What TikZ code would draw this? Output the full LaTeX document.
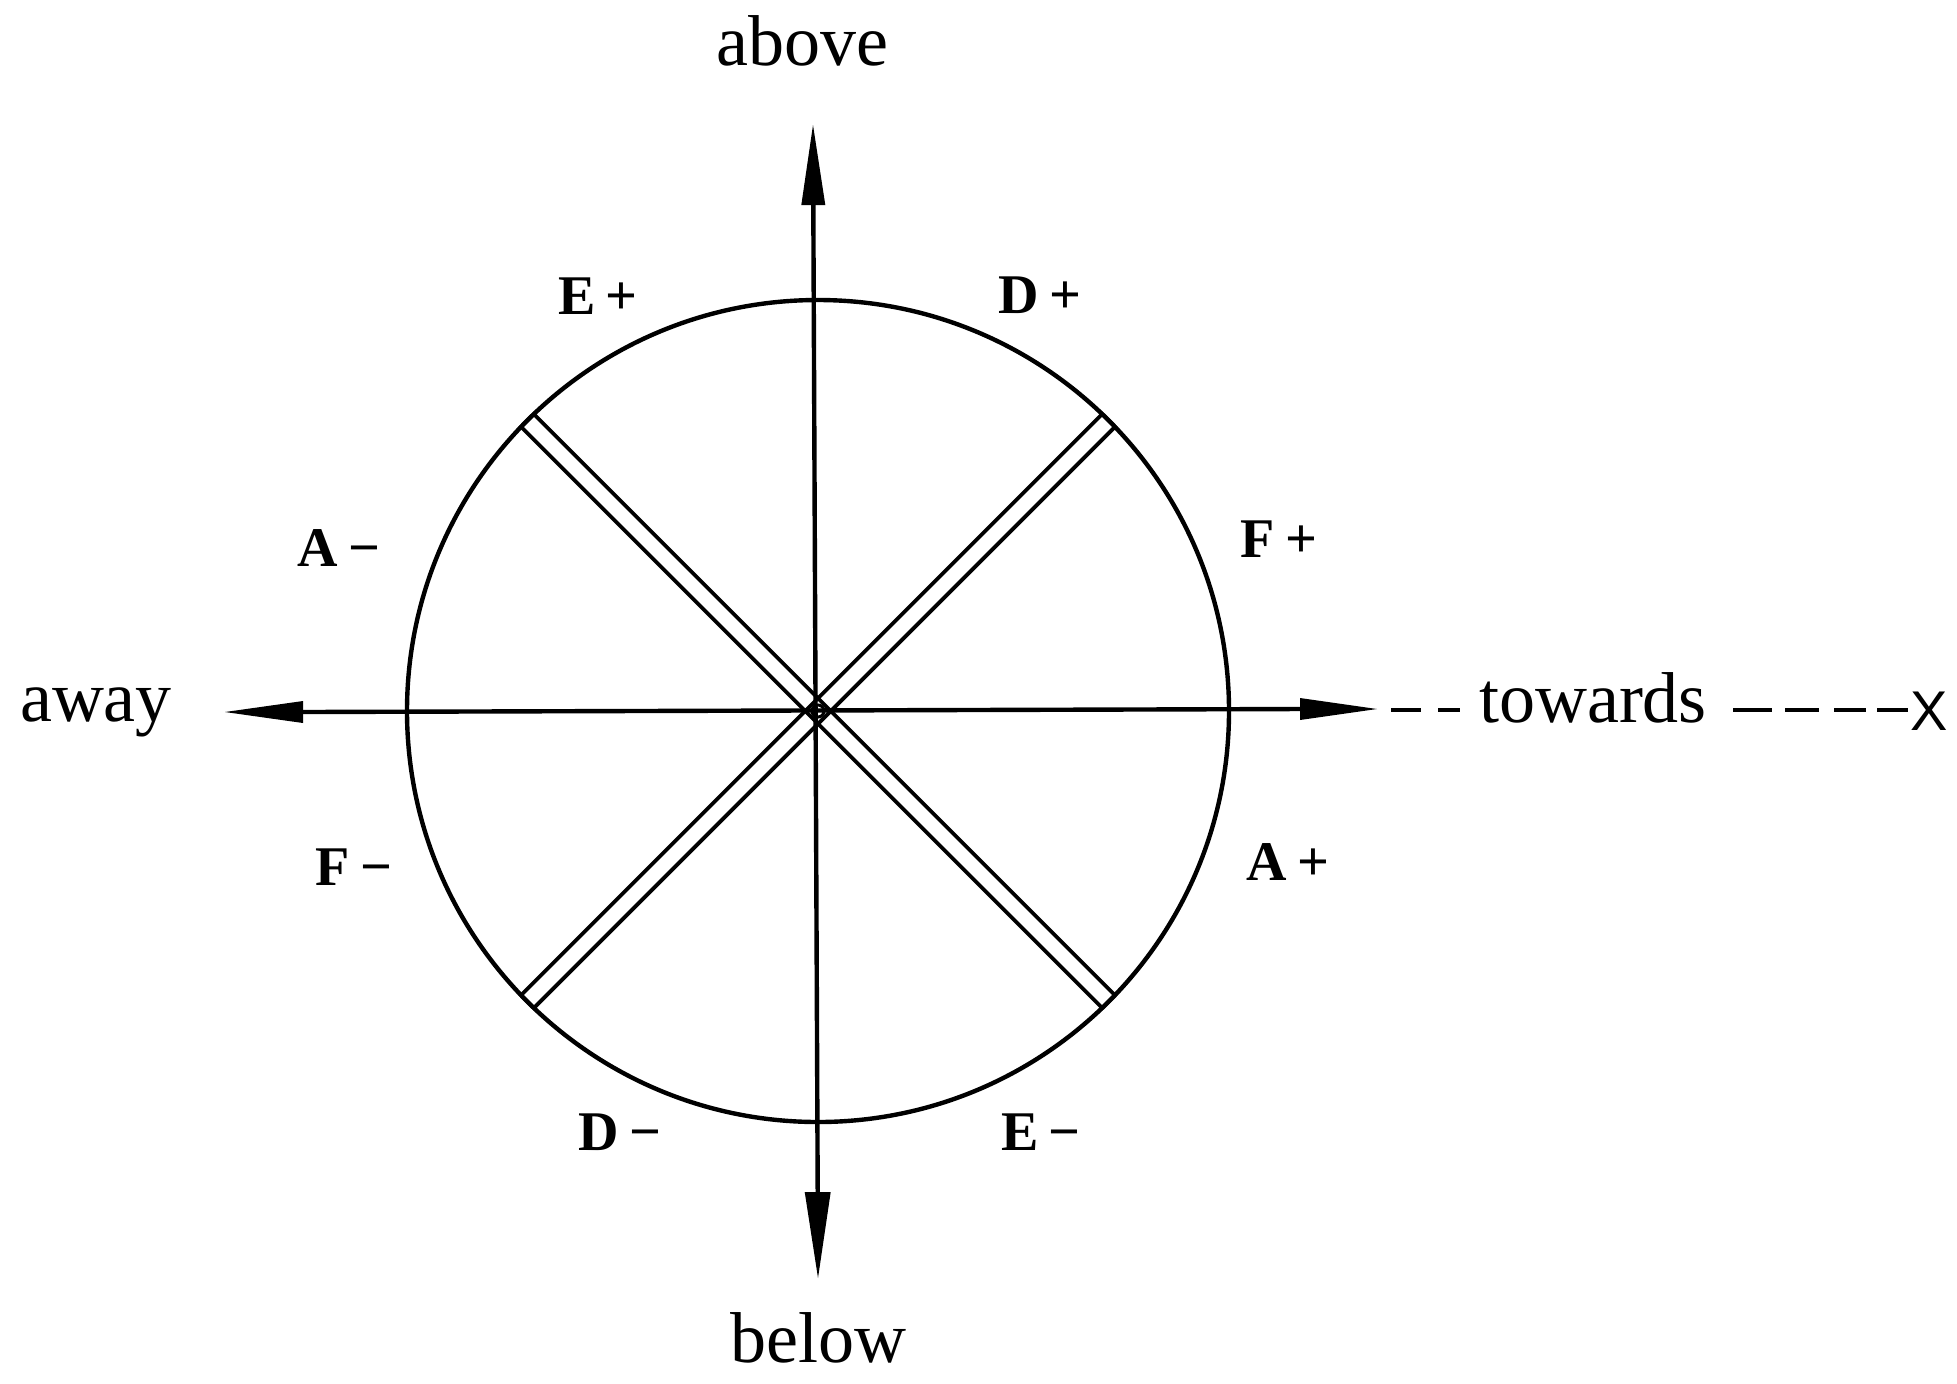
\documentclass[tikz,border=0pt]{standalone}
\usepackage{fontspec}
\setmainfont{Liberation Serif}
\setsansfont{Liberation Sans}
\begin{document}
\begin{tikzpicture}[x=0.5pt,y=-0.5pt,
  ln/.style={line width=2.2pt},
  stripln/.style={line width=1.9pt, line join=miter},
  lbl/.style={font=\fontsize{28}{32}\selectfont\bfseries, anchor=base, inner sep=0pt},
  word/.style={font=\fontsize{36}{40}\selectfont, anchor=base, inner sep=0pt},
  dashln/.style={line width=2.2pt}]
\useasboundingbox (0,0) rectangle (1957,1383);
\fill[white] (0,0) rectangle (1957,1383);
% centre and axis end points
\coordinate (c) at (818,711);
\coordinate (ttip) at (813,125);  \coordinate (tbase) at (813.3,205);
\coordinate (btip) at (818,1278); \coordinate (bbase) at (817.7,1192);
\coordinate (ltip) at (225,712);  \coordinate (lbase) at (303,712);
\coordinate (rtip) at (1377,709); \coordinate (rbase) at (1300,709);
% circle
\draw[ln] (c) circle[radius=411];
% axes
\draw[ln] (tbase) -- (bbase);
\draw[ln] (lbase) -- (rbase);
% arrow heads
\fill (ttip) -- ([xshift=-6pt]tbase) -- ([xshift=6pt]tbase) -- cycle;
\fill (btip) -- ([xshift=-6.5pt]bbase) -- ([xshift=6.5pt]bbase) -- cycle;
\fill (ltip) -- ([yshift=-5.5pt]lbase) -- ([yshift=5.5pt]lbase) -- cycle;
\fill (rtip) -- ([yshift=-5.5pt]rbase) -- ([yshift=5.5pt]rbase) -- cycle;
% small circle at centre
\draw[line width=1.5pt] (c) circle[radius=6];
% double strips
\coordinate (s1a) at (533.8,414.0);  \coordinate (s1b) at (1115.0,995.2);
\coordinate (s1c) at (1102.2,1008.0); \coordinate (s1d) at (521.0,426.8);
\draw[stripln] (s1a) -- (s1b) -- (s1c) -- (s1d) -- cycle;
\coordinate (s2a) at (1115.0,426.8); \coordinate (s2b) at (533.8,1008.0);
\coordinate (s2c) at (521.0,995.2);  \coordinate (s2d) at (1102.2,414.0);
\draw[stripln] (s2a) -- (s2b) -- (s2c) -- (s2d) -- cycle;
% dashes on the right
\coordinate (d1a) at (1391,710); \coordinate (d1b) at (1421,710);
\coordinate (d2a) at (1438,710); \coordinate (d2b) at (1460,710);
\draw[dashln] (d1a) -- (d1b);
\draw[dashln] (d2a) -- (d2b);
\coordinate (e1a) at (1733,710); \coordinate (e1b) at (1772,710);
\coordinate (e2a) at (1785,710); \coordinate (e2b) at (1819,710);
\coordinate (e3a) at (1834,710); \coordinate (e3b) at (1866,710);
\coordinate (e4a) at (1877,710); \coordinate (e4b) at (1908,710);
\draw[dashln] (e1a) -- (e1b);
\draw[dashln] (e2a) -- (e2b);
\draw[dashln] (e3a) -- (e3b);
\draw[dashln] (e4a) -- (e4b);
% words
\node[word] (above) at (802,65) {above};
\node[word] (below) at (818,1362) {below};
\node[word] (away) at (96,721) {away};
\node[word] (towards) at (1593,722) {towards};
\node[font=\fontsize{28}{30}\selectfont\sffamily, anchor=base, inner sep=0pt] (X) at (1929,730) {X};
% labels
\node[lbl] (Ep) at (598,314) {E\kern5pt+};
\node[lbl] (Dp) at (1040,313) {D\kern5pt+};
\node[lbl] (Am) at (339,566) {A\kern5pt−};
\node[lbl] (Fp) at (1279,557) {F\kern5pt+};
\node[lbl] (Fm) at (354,885) {F\kern5pt−};
\node[lbl] (Ap) at (1288,880) {A\kern5pt+};
\node[lbl] (Dm) at (620,1150) {D\kern5pt−};
\node[lbl] (Em) at (1041,1150) {E\kern5pt−};
\end{tikzpicture}
\end{document}
